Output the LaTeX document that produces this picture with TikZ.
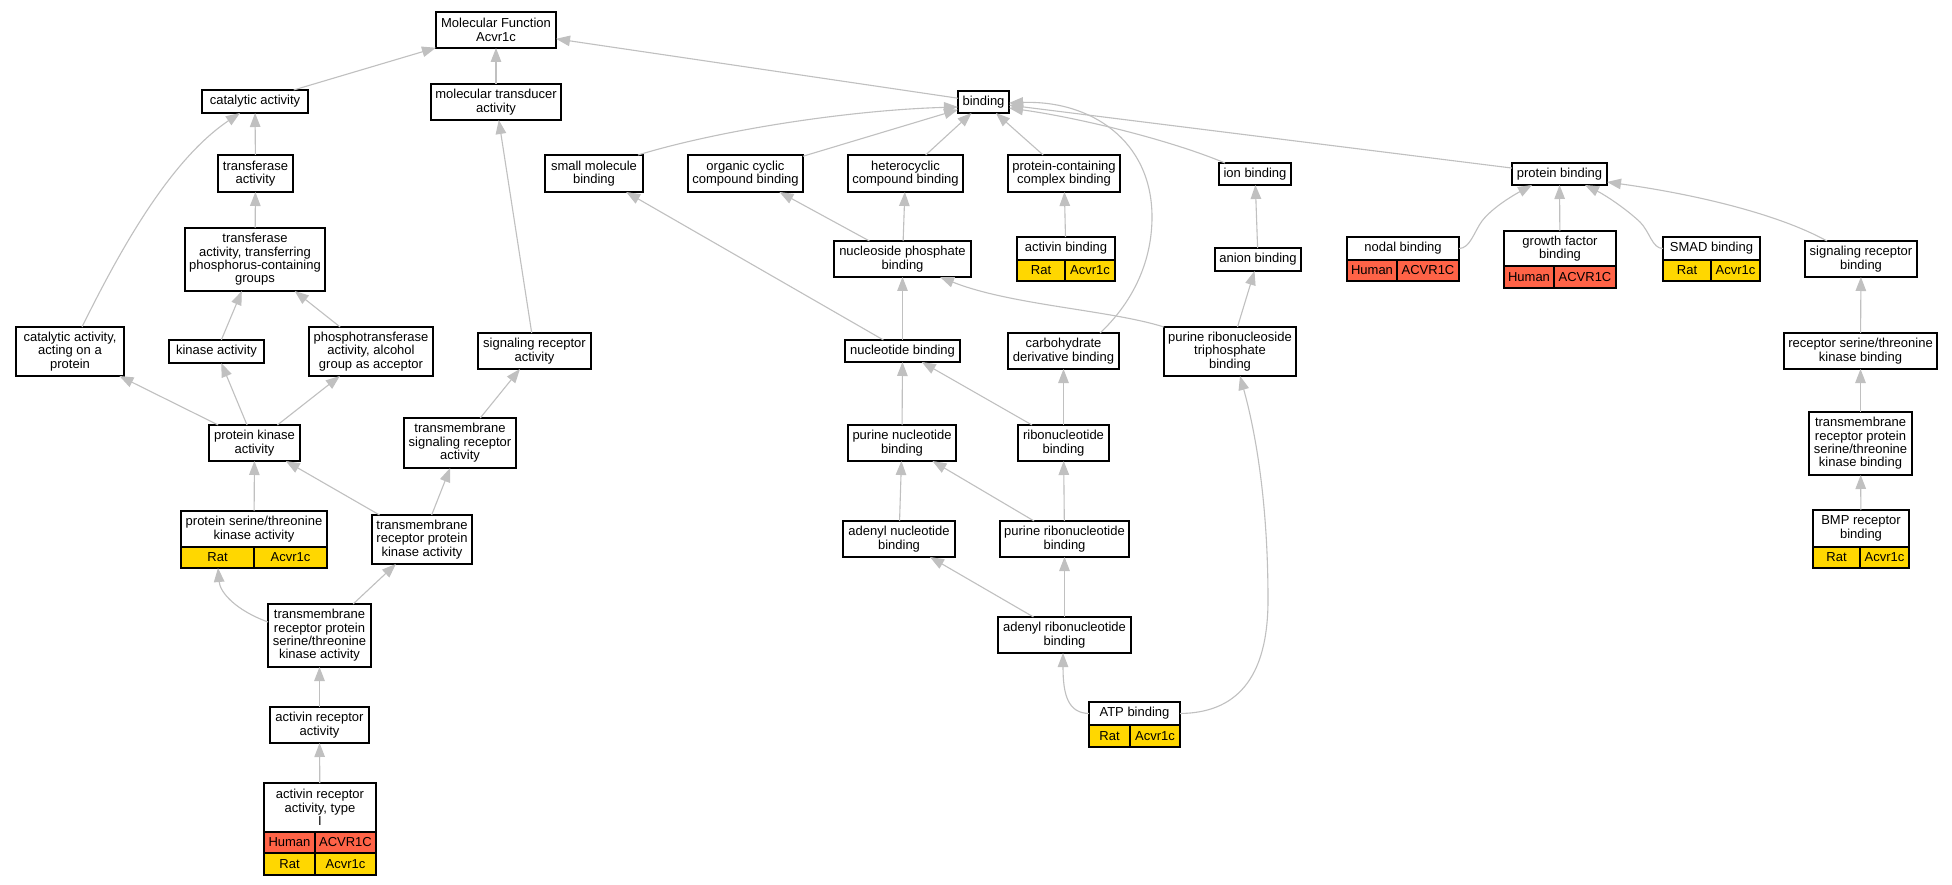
\documentclass[tikz,border=0pt]{standalone}
\usepackage{fontspec}
\setmainfont{Liberation Sans}
\usetikzlibrary{arrows.meta,calc}
\definecolor{ratc}{HTML}{FFD700}
\definecolor{humc}{HTML}{FF6347}
\definecolor{edgec}{HTML}{C0C0C0}
\newcommand{\gofont}{\fontsize{13}{13.4}\selectfont}
\tikzset{
 gobox/.style={draw=black, line width=1.2pt, fill=white, inner sep=0pt, outer sep=0pt, align=center, font=\gofont},
 golbl/.style={inner sep=0pt, align=center, font=\gofont},
 gocellst/.style={draw=black, line width=1.2pt, inner sep=0pt, outer sep=0pt, anchor=north west, font=\gofont},
 goedge/.style={draw=edgec, line width=1.1pt, -{Triangle[length=14pt,width=10.5pt,fill=edgec]}},
}
\newcommand{\gob}[6]{\node[gobox, minimum width=#4pt, minimum height=#5pt] (#1) at (#2,#3) {#6};}
\newcommand{\gocell}[7]{\node[gocellst, fill=#6, minimum width=#4pt, minimum height=#5pt] (#1) at (#2,#3) {#7};}
\begin{document}
\begin{tikzpicture}[x=1pt,y=-1pt]
\fill[white] (0,0) rectangle (1952,885);
\useasboundingbox (0,0) rectangle (1952,885);
% plain boxes
\gob{mf}{496}{30}{120}{36}{Molecular Function\\Acvr1c}
\gob{cat}{255}{101.5}{106}{23}{catalytic activity}
\gob{mta}{496}{102}{130}{36}{molecular transducer\\activity}
\gob{bind}{983.5}{102}{51}{22}{binding}
\gob{tra}{255.5}{173.5}{75}{37}{transferase\\activity}
\gob{sm}{594}{173.5}{98}{37}{small molecule\\binding}
\gob{occ}{745.5}{173.5}{115}{37}{organic cyclic\\compound binding}
\gob{hcc}{905.5}{173.5}{115}{37}{heterocyclic\\compound binding}
\gob{pcc}{1064}{173.5}{112}{37}{protein-containing\\complex binding}
\gob{ion}{1255}{174}{72}{22}{ion binding}
\gob{pb}{1559.5}{174}{95}{22}{protein binding}
\gob{tpg}{255}{259.5}{140}{63}{transferase\\activity, transferring\\phosphorus-containing\\groups}
\gob{npb}{902.5}{259}{137}{36}{nucleoside phosphate\\binding}
\gob{anion}{1258}{259.5}{86}{23}{anion binding}
\gob{srb}{1861}{259}{112}{36}{signaling receptor\\binding}
\gob{caop}{70}{351.5}{108}{49}{catalytic activity,\\acting on a\\protein}
\gob{ka}{216.5}{351.5}{95}{23}{kinase activity}
\gob{pta}{371}{351.5}{124}{49}{phosphotransferase\\activity, alcohol\\group as acceptor}
\gob{sra}{534.5}{351}{113}{36}{signaling receptor\\activity}
\gob{nb}{902.5}{351}{115}{22}{nucleotide binding}
\gob{cdb}{1063.5}{351}{111}{36}{carbohydrate\\derivative binding}
\gob{prtb}{1230}{351.5}{132}{49}{purine ribonucleoside\\triphosphate\\binding}
\gob{rstkb}{1860.5}{351}{153}{36}{receptor serine/threonine\\kinase binding}
\gob{pk}{254.5}{443}{91}{36}{protein kinase\\activity}
\gob{tmsra}{460}{443}{112}{50}{transmembrane\\signaling receptor\\activity}
\gob{pnb}{902}{443}{108}{36}{purine nucleotide\\binding}
\gob{rnb}{1063.5}{443}{91}{36}{ribonucleotide\\binding}
\gob{tmrpstkb}{1860.5}{443.5}{103}{63}{transmembrane\\receptor protein\\serine/threonine\\kinase binding}
\gob{tmrpk}{422}{539.5}{100}{49}{transmembrane\\receptor protein\\kinase activity}
\gob{anb}{899}{539}{112}{36}{adenyl nucleotide\\binding}
\gob{prnb}{1064.5}{539}{129}{36}{purine ribonucleotide\\binding}
\gob{tmrpstk}{319.5}{635.5}{103}{63}{transmembrane\\receptor protein\\serine/threonine\\kinase activity}
\gob{arnb}{1064.5}{635}{133}{36}{adenyl ribonucleotide\\binding}
\gob{ara}{319.5}{725}{99}{36}{activin receptor\\activity}
% tables
\gob{psk}{254}{539.5}{146}{57}{}
\node[golbl] (psk-t) at (254,529) {protein serine/threonine\\kinase activity};
\gocell{psk-s}{181}{547}{73}{21}{ratc}{Rat}
\gocell{psk-g}{254}{547}{73}{21}{ratc}{Acvr1c}
\gob{arat}{320}{829}{112}{92}{}
\node[golbl] (arat-t) at (320,807.5) {activin receptor\\activity, type\\I};
\gocell{arat-hs}{264}{832}{51}{21}{humc}{Human}
\gocell{arat-hg}{315}{832}{61}{21}{humc}{ACVR1C}
\gocell{arat-rs}{264}{853}{51}{22}{ratc}{Rat}
\gocell{arat-rg}{315}{853}{61}{22}{ratc}{Acvr1c}
\gob{actb}{1066}{259}{98}{44}{}
\node[golbl] (actb-t) at (1066,248.5) {activin binding};
\gocell{actb-s}{1017}{260}{48}{21}{ratc}{Rat}
\gocell{actb-g}{1065}{260}{50}{21}{ratc}{Acvr1c}
\gob{nodal}{1403}{259}{112}{44}{}
\node[golbl] (nodal-t) at (1403,248.5) {nodal binding};
\gocell{nodal-s}{1347}{260}{50}{21}{humc}{Human}
\gocell{nodal-g}{1397}{260}{62}{21}{humc}{ACVR1C}
\gob{gfb}{1560}{259.5}{112}{57}{}
\node[golbl] (gfb-t) at (1560,248.5) {growth factor\\binding};
\gocell{gfb-s}{1504}{266}{50}{22}{humc}{Human}
\gocell{gfb-g}{1554}{266}{62}{22}{humc}{ACVR1C}
\gob{smad}{1711.5}{259}{97}{44}{}
\node[golbl] (smad-t) at (1711.5,248.5) {SMAD binding};
\gocell{smad-s}{1663}{260}{48}{21}{ratc}{Rat}
\gocell{smad-g}{1711}{260}{49}{21}{ratc}{Acvr1c}
\gob{bmp}{1861}{539}{96}{58}{}
\node[golbl] (bmp-t) at (1861,528.5) {BMP receptor\\binding};
\gocell{bmp-s}{1813}{547}{47}{21}{ratc}{Rat}
\gocell{bmp-g}{1860}{547}{49}{21}{ratc}{Acvr1c}
\gob{atp}{1134.5}{724.5}{91}{45}{}
\node[golbl] (atp-t) at (1134.5,713.5) {ATP binding};
\gocell{atp-s}{1089}{725}{41}{22}{ratc}{Rat}
\gocell{atp-g}{1130}{725}{50}{22}{ratc}{Acvr1c}
% straight edges
\draw[goedge] (cat) -- (mf);
\draw[goedge] (mta) -- (mf);
\draw[goedge] (bind) -- (mf);
\draw[goedge] (tra) -- (cat);
\draw[goedge] (tpg) -- (tra);
\draw[goedge] (ka) -- (tpg);
\draw[goedge] (pta) -- (tpg);
\draw[goedge] (pk) -- (caop);
\draw[goedge] (pk) -- (ka);
\draw[goedge] (pk) -- (pta);
\draw[goedge] (sra) -- (mta);
\draw[goedge] (tmsra) -- (sra);
\draw[goedge] (psk) -- (pk);
\draw[goedge] (tmrpk) -- (pk);
\draw[goedge] (tmrpk) -- (tmsra);
\draw[goedge] (tmrpstk) -- (tmrpk);
\draw[goedge] (ara) -- (tmrpstk);
\draw[goedge] (arat) -- (ara);
\draw[goedge] (occ) -- (bind);
\draw[goedge] (hcc) -- (bind);
\draw[goedge] (pcc) -- (bind);
\draw[goedge] (pb) -- (bind);
\draw[goedge] (npb) -- (occ);
\draw[goedge] (npb) -- (hcc);
\draw[goedge] (nb) -- (sm);
\draw[goedge] (nb) -- (npb);
\draw[goedge] (actb) -- (pcc);
\draw[goedge] (anion) -- (ion);
\draw[goedge] (prtb) -- (anion);
\draw[goedge] (pnb) -- (nb);
\draw[goedge] (rnb) -- (nb);
\draw[goedge] (rnb) -- (cdb);
\draw[goedge] (anb) -- (pnb);
\draw[goedge] (prnb) -- (pnb);
\draw[goedge] (prnb) -- (rnb);
\draw[goedge] (arnb) -- (anb);
\draw[goedge] (arnb) -- (prnb);
\draw[goedge] (gfb) -- (pb);
\draw[goedge] (rstkb) -- (srb);
\draw[goedge] (tmrpstkb) -- (rstkb);
\draw[goedge] (bmp) -- (tmrpstkb);
% curved edges
\draw[goedge] ([xshift=12pt]caop.north) .. controls (120,250) and (170,160) .. ([xshift=-15pt]cat.south);
\draw[goedge] ([yshift=13.5pt]tmrpstk.west) .. controls (235,610) and (220,592) .. ([xshift=-36pt]psk.south);
\draw[goedge] ([xshift=-5pt]sm.north east) .. controls (720,130) and (850,110) .. ([yshift=-5pt]bind.west);
\draw[goedge] ([xshift=-30pt]ion.north) .. controls (1170,140) and (1080,118) .. ([yshift=-6pt]bind.east);
\draw[goedge] ([xshift=36.5pt]cdb.north) .. controls (1130,305) and (1152,265) .. (1152,217) .. controls (1152,140) and (1090,100) .. ([yshift=-1pt]bind.east);
\draw[goedge] (prtb.north west) .. controls (1110,310) and (1010,305) .. ([xshift=37.5pt]npb.south);
\draw[goedge] ([yshift=11pt]atp.west) .. controls (1068,713) and (1063,695) .. ([xshift=-1.5pt]arnb.south);
\draw[goedge] ([yshift=11pt]atp.east) .. controls (1235,713) and (1268,680) .. (1268,600) .. controls (1268,500) and (1255,430) .. ([xshift=10pt]prtb.south);
\draw[goedge] ([yshift=10.5pt]nodal.east) .. controls (1470,248.5) and (1474,232) .. (1482,221) .. controls (1492,208) and (1512,196) .. ([xshift=-27.5pt]pb.south);
\draw[goedge] ([yshift=10.5pt]smad.west) .. controls (1652,248.5) and (1650,232) .. (1640,222) .. controls (1625,208) and (1605,195) .. ([xshift=25.5pt]pb.south);
\draw[goedge] ([xshift=-34pt]srb.north) .. controls (1780,215) and (1700,195) .. ([yshift=-8pt]pb.east);
\end{tikzpicture}
\end{document}
